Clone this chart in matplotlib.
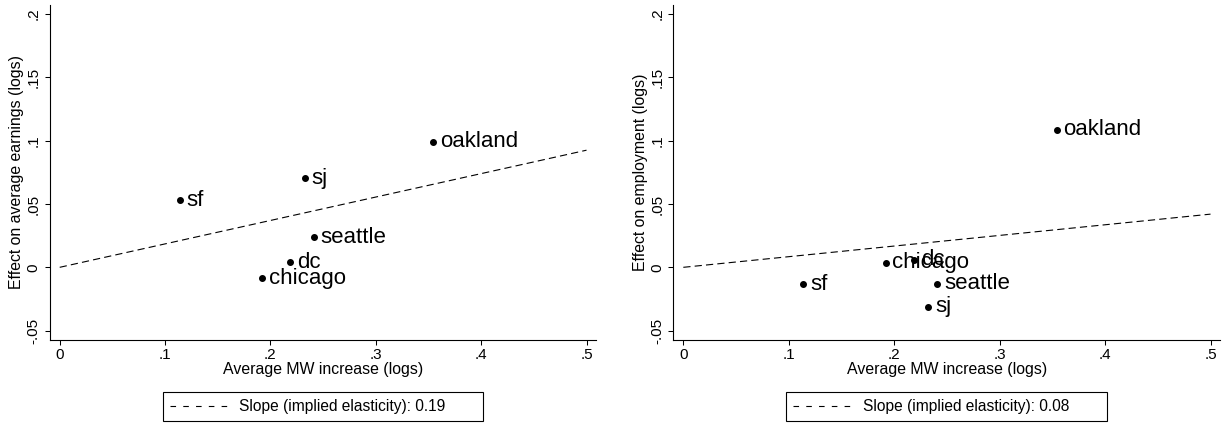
import numpy as np
import matplotlib
matplotlib.use('Agg')
import matplotlib.pyplot as plt
from matplotlib.lines import Line2D

# ---------------- data ----------------
cities = ['sf', 'chicago', 'dc', 'sj', 'seattle', 'oakland']
mw_increase = [0.1138, 0.192, 0.219, 0.2325, 0.241, 0.3543]
effect_earnings = [0.053, -0.0087, 0.004, 0.0704, 0.0237, 0.0992]
effect_employment = [-0.0134, 0.0038, 0.0058, -0.031, -0.0128, 0.1088]
slope_earnings = 0.185
slope_employment = 0.084
fit_range = [0.0, 0.5]
slope_labels = ['Slope (implied elasticity): 0.19',
                'Slope (implied elasticity): 0.08']
ylabels = ['Effect on average earnings (logs)', 'Effect on employment (logs)']
xlabel = 'Average MW increase (logs)'
xticks = [0, .1, .2, .3, .4, .5]
xticklabels = ['0', '.1', '.2', '.3', '.4', '.5']
yticks = [-.05, 0, .05, .1, .15, .2]
yticklabels = ['-.05', '0', '.05', '.1', '.15', '.2']

# ---------------- style ----------------
plt.rcParams['font.family'] = ['Liberation Sans', 'DejaVu Sans']
plt.rcParams['lines.scale_dashes'] = False

W, H = 1225, 423
fig = plt.figure(figsize=(W / 100, H / 100), dpi=100)
fig.patch.set_facecolor('white')

ax_bottom = (H - 340) / H
ax_height = (340 - 4.7) / H
ax_lefts = [49.7 / W, 673.3 / W]
ax_widths = [(596 - 49.7) / W, (1220 - 673.3) / W]

series = [effect_earnings, effect_employment]
slopes = [slope_earnings, slope_employment]

for i in range(2):
    ax = fig.add_axes([ax_lefts[i], ax_bottom, ax_widths[i], ax_height])
    ys = series[i]
    ax.plot(mw_increase, ys, linestyle='none', marker='o', markersize=4.0,
            color='black', zorder=3)
    for c, xv, yv in zip(cities, mw_increase, ys):
        ax.annotate(c, (xv, yv), xytext=(4.8, 0), textcoords='offset points',
                    ha='left', va='center', fontsize=16, color='black')
    fx = np.array(fit_range)
    ax.plot(fx, slopes[i] * fx, color='black', linewidth=0.8,
            linestyle=(0, (5.2, 3.0)), zorder=2)

    ax.set_xlim(-0.0095, 0.509)
    ax.set_ylim(-0.0574, 0.2074)
    ax.set_xticks(xticks)
    ax.set_xticklabels(xticklabels)
    ax.set_yticks(yticks)
    ax.set_yticklabels(yticklabels, rotation=90, va='center')
    ax.tick_params(axis='both', direction='out', length=3.6, width=0.75,
                   labelsize=11, colors='black')
    ax.tick_params(axis='x', pad=2)
    ax.tick_params(axis='y', pad=3)
    for s in ['top', 'right']:
        ax.spines[s].set_visible(False)
    for s in ['left', 'bottom']:
        ax.spines[s].set_linewidth(0.8)
        ax.spines[s].set_color('black')
    ax.set_xlabel(xlabel, fontsize=11.4, labelpad=0.3)
    ax.set_ylabel(ylabels[i], fontsize=11.4, labelpad=1.5)

    proxy = Line2D([], [], color='black', linewidth=0.8,
                   linestyle=(0, (4.0, 5.2)))
    leg = ax.legend(handles=[proxy], labels=[slope_labels[i]],
                    loc='upper left',
                    bbox_to_anchor=(0.2068, -0.1551, 0.5869, 0.0),
                    mode='expand', borderaxespad=0, borderpad=0.45,
                    handlelength=3.66, handletextpad=0.81,
                    frameon=True, fancybox=False, framealpha=1,
                    edgecolor='black', fontsize=11.2)
    leg.get_frame().set_linewidth(0.8)

fig.savefig('out.png', dpi=100, facecolor='white')
